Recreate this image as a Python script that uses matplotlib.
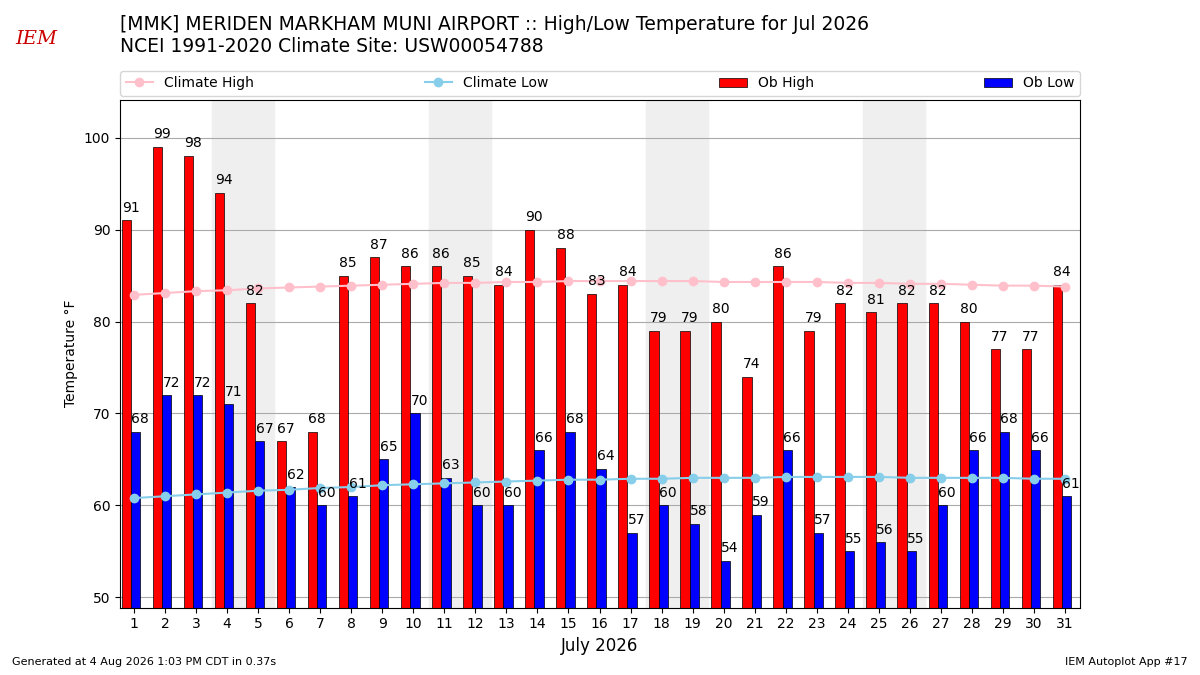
import matplotlib
matplotlib.use("Agg")
import matplotlib.pyplot as plt
import numpy as np

days = list(range(1, 32))
ob_high = [91, 99, 98, 94, 82, 67, 68, 85, 87, 86, 86, 85, 84, 90, 88, 83,
           84, 79, 79, 80, 74, 86, 79, 82, 81, 82, 82, 80, 77, 77, 84]
ob_low = [68, 72, 72, 71, 67, 62, 60, 61, 65, 70, 63, 60, 60, 66, 68, 64,
          57, 60, 58, 54, 59, 66, 57, 55, 56, 55, 60, 66, 68, 66, 61]
clim_high = [82.9, 83.1, 83.3, 83.4, 83.6, 83.7, 83.8, 83.9, 84.0, 84.1, 84.2,
             84.2, 84.3, 84.3, 84.4, 84.4, 84.4, 84.4, 84.4, 84.3, 84.3, 84.3,
             84.3, 84.2, 84.2, 84.1, 84.1, 84.0, 83.9, 83.9, 83.8]
clim_low = [60.8, 61.0, 61.2, 61.4, 61.6, 61.7, 61.9, 62.0, 62.2, 62.3, 62.4,
            62.5, 62.6, 62.7, 62.8, 62.8, 62.9, 62.9, 63.0, 63.0, 63.0, 63.1,
            63.1, 63.1, 63.1, 63.0, 63.0, 63.0, 63.0, 62.9, 62.9]
weekends = [4, 11, 18, 25]

fig = plt.figure(figsize=(12, 6.75), dpi=100)
ax = fig.add_axes([0.1, 0.1, 0.8, 0.752])

for w in weekends:
    ax.axvspan(w - 0.5, w + 1.5, color="#efefef", zorder=0)

x = np.array(days)
b1 = ax.bar(x - 0.4, ob_high, width=0.3, align="edge", color="red",
            edgecolor="black", linewidth=0.5, zorder=2)
b2 = ax.bar(x - 0.1, ob_low, width=0.3, align="edge", color="blue",
            edgecolor="black", linewidth=0.5, zorder=2)

l1, = ax.plot(days, clim_high, color="pink", marker="o", markersize=6, lw=1.5,
              zorder=3)
l2, = ax.plot(days, clim_low, color="skyblue", marker="o", markersize=6, lw=1.5,
              zorder=3)

for d, h, l in zip(days, ob_high, ob_low):
    ax.text(d - 0.1, h + 0.6, str(h), ha="center", va="bottom", fontsize=10, zorder=5)
    ax.text(d + 0.2, l + 0.6, str(l), ha="center", va="bottom", fontsize=10, zorder=5)

ax.set_xlim(0.55, 31.48)
ax.set_ylim(48.9, 104.1)
ax.set_xticks(days)
ax.set_yticks(range(50, 101, 10))
ax.grid(axis="y", color="#aaaaaa", lw=0.8)
ax.set_axisbelow(True)
ax.set_xlabel("July 2026", fontsize=12)
ax.set_ylabel("Temperature °F")

ax.legend([l1, l2, b1, b2], ["Climate High", "Climate Low", "Ob High", "Ob Low"],
          ncol=4, loc="lower left", bbox_to_anchor=(0, 1.008, 1, 0.05),
          mode="expand", borderaxespad=0, fontsize=10)

fig.text(0.1, 0.948, "[MMK] MERIDEN MARKHAM MUNI AIRPORT :: High/Low Temperature for Jul 2026\n"
         "NCEI 1991-2020 Climate Site: USW00054788", fontsize=13.5, va="center")
fig.text(0.03, 0.935, "IEM", color="#cc0000", fontsize=14, style="italic",
         family="serif", ha="center")
fig.text(0.01, 0.015, "Generated at 4 Aug 2026 1:03 PM CDT in 0.37s", fontsize=8)
fig.text(0.99, 0.015, "IEM Autoplot App #17", fontsize=8, ha="right")

fig.savefig("out.png", dpi=100)
